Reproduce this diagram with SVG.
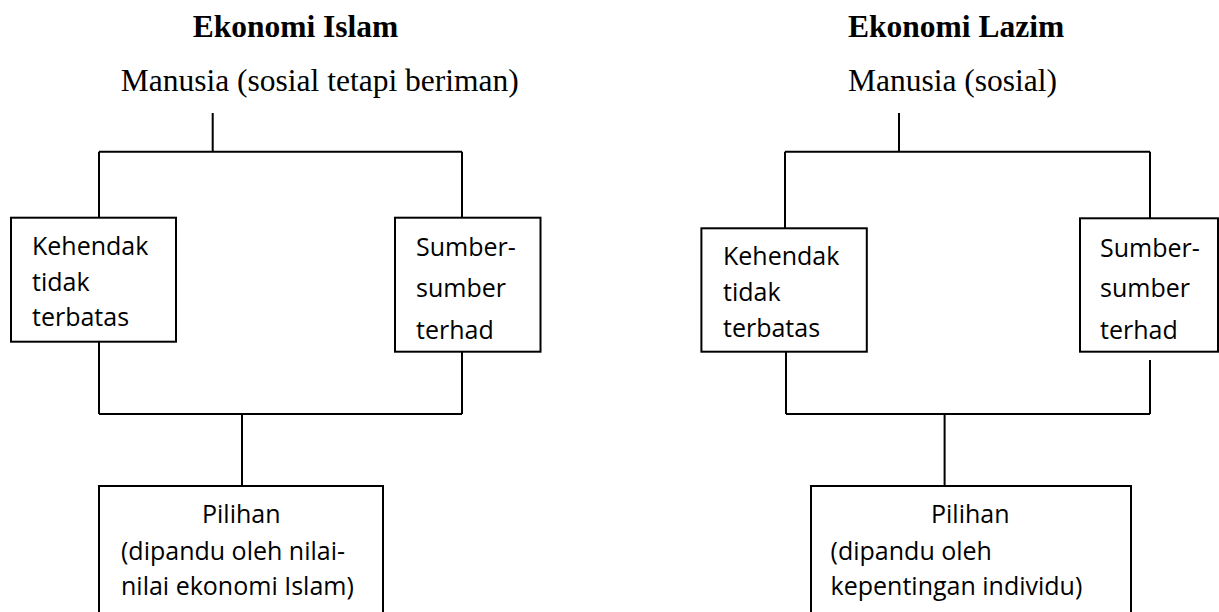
<svg xmlns="http://www.w3.org/2000/svg" width="1219" height="612" viewBox="0 0 1219 612">
<style>
.title{font-family:"Liberation Serif","Times New Roman",serif;font-weight:bold;font-size:31.5px;fill:#000}
.root{font-family:"Liberation Serif","Times New Roman",serif;font-size:31.5px;fill:#000}
.lbl{font-family:"Open Sans","Noto Sans",sans-serif;font-size:25px;fill:#000}
.box{fill:#fff;stroke:#000;stroke-width:2}
.ln{fill:none;stroke:#000;stroke-width:2}
</style>
<rect width="1219" height="612" fill="#fff"/>
<g id="connectors">
<path class="ln" d="M212.7,113 V151.7 M99,151.7 H462 M99,151.7 V217.7 M462,151.7 V217.7"/>
<path class="ln" d="M99,341.7 V414 M462,351.7 V414 M99,414 H462 M242,414 V486"/>
<path class="ln" d="M899,113 V151.7 M785,151.7 H1150 M785,151.7 V228.3 M1150,151.7 V218.3"/>
<path class="ln" d="M786,351.7 V414 M1150,360 V414 M786,414 H1150 M944.6,414 V486"/>
</g>
<g id="title-islam"><text class="title" x="192.7" y="36.7">Ekonomi Islam</text></g>
<g id="manusia-islam"><text class="root" x="120.7" y="90.7">Manusia (sosial tetapi beriman)</text></g>
<g id="kehendak-islam">
<rect class="box" x="11" y="217.7" width="165" height="124"/>
<text class="lbl" x="32" y="255">Kehendak</text>
<text class="lbl" x="32" y="291">tidak</text>
<text class="lbl" x="32" y="326">terbatas</text>
</g>
<g id="sumber-islam">
<rect class="box" x="395" y="217.7" width="145.5" height="134"/>
<text class="lbl" x="416" y="256">Sumber-</text>
<text class="lbl" x="416" y="297">sumber</text>
<text class="lbl" x="416" y="339">terhad</text>
</g>
<g id="pilihan-islam">
<rect class="box" x="99" y="486" width="284" height="160"/>
<text class="lbl" x="202" y="523">Pilihan</text>
<text class="lbl" x="121" y="560">(dipandu oleh nilai-</text>
<text class="lbl" x="121" y="595">nilai ekonomi Islam)</text>
</g>
<g id="title-lazim"><text class="title" x="848" y="36.7">Ekonomi Lazim</text></g>
<g id="manusia-lazim"><text class="root" x="848" y="90.7">Manusia (sosial)</text></g>
<g id="kehendak-lazim">
<rect class="box" x="701.4" y="228.3" width="165.4" height="123.4"/>
<text class="lbl" x="723" y="265">Kehendak</text>
<text class="lbl" x="723" y="301">tidak</text>
<text class="lbl" x="723" y="337">terbatas</text>
</g>
<g id="sumber-lazim">
<rect class="box" x="1080" y="218.3" width="138" height="133.4"/>
<text class="lbl" x="1100" y="257">Sumber-</text>
<text class="lbl" x="1100" y="297">sumber</text>
<text class="lbl" x="1100" y="339">terhad</text>
</g>
<g id="pilihan-lazim">
<rect class="box" x="811" y="486" width="320" height="160"/>
<text class="lbl" x="931" y="523">Pilihan</text>
<text class="lbl" x="830.6" y="560">(dipandu oleh</text>
<text class="lbl" x="830.6" y="595">kepentingan individu)</text>
</g>
</svg>
